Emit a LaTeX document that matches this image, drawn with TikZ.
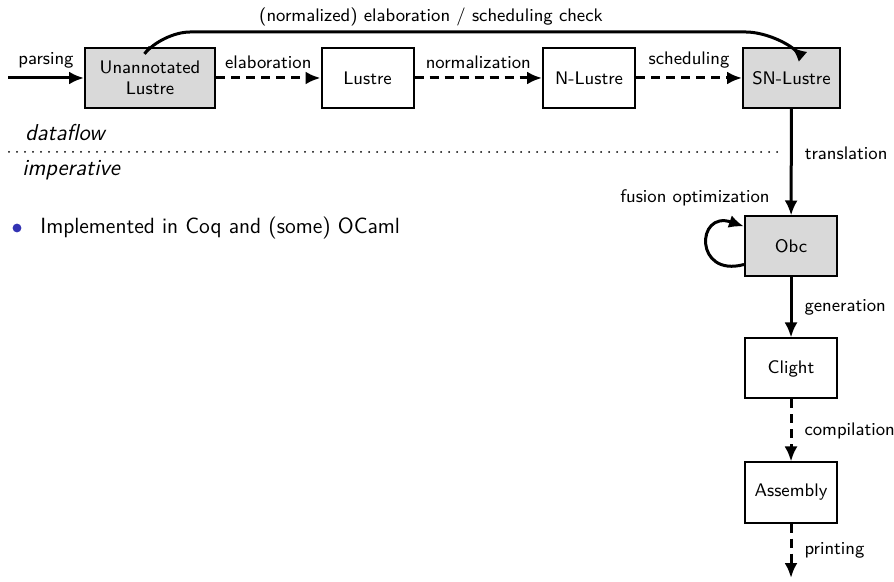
\documentclass[tikz,border=0pt]{standalone}
\usetikzlibrary{arrows.meta}
\definecolor{boxgray}{RGB}{217,217,217}
\definecolor{bulletblue}{RGB}{51,51,179}
\begin{document}
\begin{tikzpicture}[x=0.5pt,y=-0.5pt,
  font=\sffamily\fontsize{9.1}{10.5}\selectfont,
  stage/.style={draw,line width=1pt,minimum width=46pt,minimum height=30pt,
    inner sep=2pt,align=center},
  src/.style={stage,fill=boxgray},
  flow/.style={line width=1.5pt,-{Latex[length=7.5pt,width=6.5pt]}},
  dflow/.style={flow,dash pattern=on 4.5pt off 3pt},
  lbl/.style={inner sep=1pt}]
\useasboundingbox (0,0) rectangle (894,582);

% dataflow stages
\node[src,minimum width=65pt] (ua) at (150,78) {Unannotated\\Lustre};
\node[stage] (lu) at (367.5,78) {Lustre};
\node[stage] (nl) at (589,78) {N-Lustre};
\node[src,minimum width=48.5pt] (sn) at (791.5,78) {SN-Lustre};

% imperative stages
\node[src] (obc) at (791,246.5) {Obc};
\node[stage] (cl) at (791,368.5) {Clight};
\node[stage] (asm) at (791,492.5) {Assembly};

\coordinate (in) at (8,78);
\coordinate (out) at (791,578);

\draw[flow] (in) -- (ua) node[lbl,midway,above=3pt] {parsing};
\draw[dflow] (ua) -- (lu) node[lbl,midway,above=3pt] {elaboration};
\draw[dflow] (lu) -- (nl) node[lbl,midway,above=3pt] {normalization};
\draw[dflow] (nl) -- (sn) node[lbl,midway,above=3pt] {scheduling};

\draw[flow,rounded corners=14] (ua.north) -- (162,32) -- (774,32) -- (sn.north);
\node[lbl] (chk) at (431,17) {(normalized) elaboration / scheduling check};

\draw[flow] (sn) -- (obc) node[lbl,pos=0.42,right=5pt] {translation};
\draw[flow] ([yshift=-9]obc.west) .. controls (694,278) and (696,210) .. ([yshift=10]obc.west);
\node[lbl,anchor=east] (fus) at (772,198) {fusion optimization};
\draw[flow] (obc) -- (cl) node[lbl,midway,right=5pt] {generation};
\draw[dflow] (cl) -- (asm) node[lbl,midway,right=5pt] {compilation};
\draw[dflow] (asm) -- (out) node[lbl,midway,right=5pt] {printing};

% dataflow / imperative divide
\draw[line width=1pt,line cap=round,dash pattern=on 0pt off 4pt] (9,152) -- (777,152);
\node[anchor=west,inner sep=0pt,font=\sffamily\itshape\fontsize{11.5}{13}\selectfont] (df) at (25,133) {dataflow};
\node[anchor=west,inner sep=0pt,font=\sffamily\itshape\fontsize{11.5}{13}\selectfont] (im) at (22,170) {imperative};

% bullet
\fill[bulletblue] (17,228) circle (2.2pt);
\node[anchor=west,inner sep=0pt,font=\sffamily\fontsize{11}{13}\selectfont] (impl) at (40,228) {Implemented in Coq and (some) OCaml};
\end{tikzpicture}
\end{document}
